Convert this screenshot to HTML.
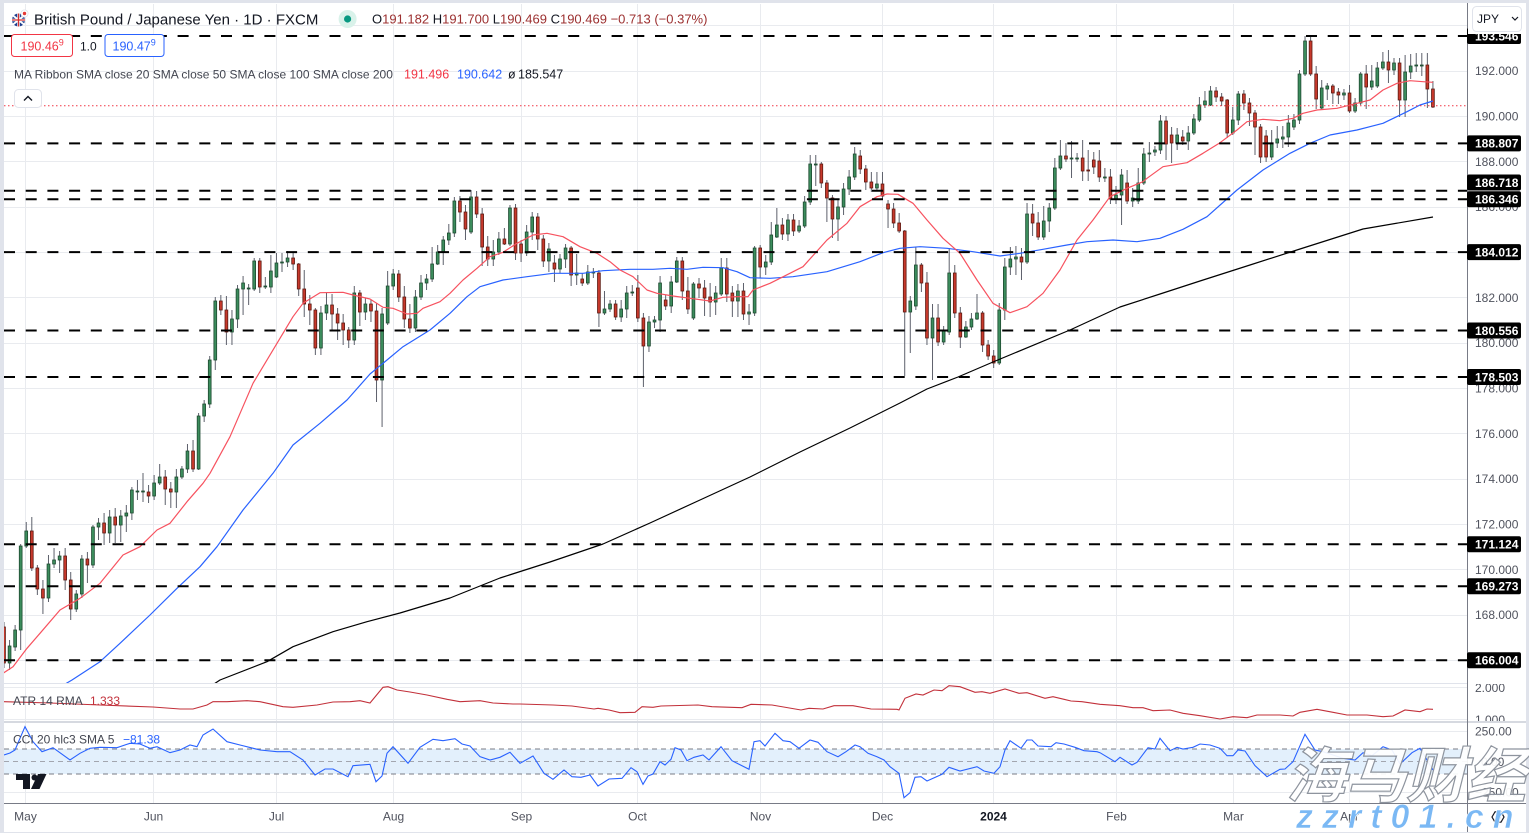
<!DOCTYPE html>
<html><head><meta charset="utf-8">
<style>
html,body{margin:0;padding:0;background:#fff;overflow:hidden;}
svg{display:block;font-family:"Liberation Sans","Noto Sans CJK SC",sans-serif;}
</style></head>
<body>
<svg id="c" width="1529" height="833" viewBox="0 0 1529 833" xmlns="http://www.w3.org/2000/svg">
<defs>
<clipPath id="main"><rect x="4" y="4" width="1463" height="679"/></clipPath>
<clipPath id="atr"><rect x="4" y="684" width="1463" height="37"/></clipPath>
<clipPath id="atrax"><rect x="1468" y="684" width="58" height="37"/></clipPath>
<clipPath id="cci"><rect x="4" y="723" width="1463" height="80"/></clipPath>
</defs>
<rect width="1529" height="833" fill="#fff"/>

<!-- horizontal grid main -->
<g stroke="#e9ebef" stroke-width="1">
<line x1="4" x2="1467" y1="25.5" y2="25.5"/>
<line x1="4" x2="1467" y1="71.5" y2="71.5"/>
<line x1="4" x2="1467" y1="116.5" y2="116.5"/>
<line x1="4" x2="1467" y1="161.5" y2="161.5"/>
<line x1="4" x2="1467" y1="207.5" y2="207.5"/>
<line x1="4" x2="1467" y1="252.5" y2="252.5"/>
<line x1="4" x2="1467" y1="297.5" y2="297.5"/>
<line x1="4" x2="1467" y1="343.5" y2="343.5"/>
<line x1="4" x2="1467" y1="388.5" y2="388.5"/>
<line x1="4" x2="1467" y1="433.5" y2="433.5"/>
<line x1="4" x2="1467" y1="479.5" y2="479.5"/>
<line x1="4" x2="1467" y1="524.5" y2="524.5"/>
<line x1="4" x2="1467" y1="569.5" y2="569.5"/>
<line x1="4" x2="1467" y1="615.5" y2="615.5"/>
<line x1="4" x2="1467" y1="660.5" y2="660.5"/>
<line x1="4" x2="1467" y1="687.5" y2="687.5"/>
<line x1="4" x2="1467" y1="719.5" y2="719.5"/>
<line x1="4" x2="1467" y1="731.5" y2="731.5"/>
<line x1="4" x2="1467" y1="792.5" y2="792.5"/>
</g>
<!-- vertical grid -->
<g stroke="#e9ebef" stroke-width="1">
<line x1="25.5" x2="25.5" y1="4" y2="803"/>
<line x1="153.5" x2="153.5" y1="4" y2="803"/>
<line x1="276.5" x2="276.5" y1="4" y2="803"/>
<line x1="393.5" x2="393.5" y1="4" y2="803"/>
<line x1="521.5" x2="521.5" y1="4" y2="803"/>
<line x1="637.5" x2="637.5" y1="4" y2="803"/>
<line x1="760.5" x2="760.5" y1="4" y2="803"/>
<line x1="882.5" x2="882.5" y1="4" y2="803"/>
<line x1="993.5" x2="993.5" y1="4" y2="803"/>
<line x1="1116.5" x2="1116.5" y1="4" y2="803"/>
<line x1="1233.5" x2="1233.5" y1="4" y2="803"/>
<line x1="1349.5" x2="1349.5" y1="4" y2="803"/>
</g>

<!-- candles -->
<g id="candles" clip-path="url(#main)"></g>

<!-- MAs -->
<g clip-path="url(#main)" fill="none" stroke-width="1.2" stroke-linejoin="round">
<polyline stroke="#000" points="205,690 220,680 267,661.7 293,646.7 333,631.7 367,621.7 400,613 450,598 500,578 550,562 603,544 650,523 700,500 750,477 800,452 850,428 900,403 927,389 958,377 993,362 1070,330 1120,307 1160,294 1200,281 1250,265 1300,249 1363,229 1433,217"/>
<polyline stroke="#2962ff" points="55,690 72,680 100,661.7 120,643.3 150,615 177,588.3 200,566.7 217,546.7 243,510 273,473.3 293,445 320,423.3 347,400 370,374 387,360 403,346.7 430,330 450,313.3 467,296.7 480,286.7 503,280 527,276.7 553,273.3 583,273.3 603,270.7 630,269.3 653,269.3 670,268.3 687,269.3 703,267.3 723,267.7 737,271.7 750,277.7 770,278.3 793,276.7 827,271.7 860,261.7 883,252.7 900,248.3 920,246.7 947,248.3 973,251.7 1000,256 1020,253.3 1043,249.3 1067,245 1087,241.7 1113,240 1137,241.7 1160,238.3 1183,229.3 1207,216.7 1237,190 1263,170 1290,153.3 1310,143.3 1330,135 1357,130 1383,123.3 1407,111.7 1420,105 1433,101"/>
<polyline stroke="#f7525f" points="3,673.3 13,666.7 27,648.3 40,633.3 60,610 80,598.3 100,583.3 123,555 140,546.7 157,530 170,523.3 187,501.7 203,483.3 210,473.3 230,436.7 253,383.3 277,343.3 293,316.7 303,303.3 320,292.7 343,292.3 353,295 370,299 383,307.3 393,308.3 407,314 417,313.3 423,308.3 440,301.7 450,293.3 463,280 477,268.3 490,256.7 503,252.3 517,243.3 533,235 547,233.3 563,236.7 580,246.7 597,253.3 610,261.7 620,270 633,276.7 647,290 657,293.3 673,296 690,298.3 710,301 723,297.3 737,296.7 748,296.7 753,290 770,283.3 780,278.3 803,266.7 827,240 847,223.3 860,206.7 877,196.7 887,194 898,194.3 913,203.3 927,220 943,238.3 960,253.3 977,280 993,303.3 1010,312.7 1027,306.7 1043,293.3 1060,270 1077,240 1093,220 1110,196.7 1127,188.3 1143,181.7 1147,178.3 1163,166.7 1187,162.7 1203,153.3 1220,142.7 1237,130 1247,121.7 1263,119.3 1280,120.7 1293,118.3 1303,113.3 1317,110 1337,108.3 1357,103.3 1370,100 1383,90 1397,83.3 1410,80.7 1423,81.7 1433,82.3"/>
</g>

<!-- horizontal dashed levels -->
<g stroke="#000" stroke-width="2" stroke-dasharray="11 10.7" clip-path="url(#main)">
<line x1="4" x2="1467" y1="36" y2="36"/>
<line x1="4" x2="1467" y1="143.4" y2="143.4"/>
<line x1="4" x2="1467" y1="190.7" y2="190.7"/>
<line x1="4" x2="1467" y1="199.2" y2="199.2"/>
<line x1="4" x2="1467" y1="252.1" y2="252.1"/>
<line x1="4" x2="1467" y1="330.5" y2="330.5"/>
<line x1="4" x2="1467" y1="377" y2="377"/>
<line x1="4" x2="1467" y1="544.3" y2="544.3"/>
<line x1="4" x2="1467" y1="586.2" y2="586.2"/>
<line x1="4" x2="1467" y1="660.3" y2="660.3"/>
</g>
<!-- current price dotted line -->
<line x1="4" x2="1467" y1="105.7" y2="105.7" stroke="#f23645" stroke-width="1" stroke-dasharray="1.5 2.5"/>

<!-- pane separators -->
<line x1="4" x2="1467" y1="683.5" y2="683.5" stroke="#e0e3eb"/>
<rect x="4" y="721" width="1522" height="2" fill="#d6d9e0"/>

<!-- ATR -->
<g clip-path="url(#atr)">
<polyline fill="none" stroke="#c2303a" stroke-width="1.1" points="4,701.7 50,703 100,705 153,707 180,709 193,709 207,705 213,701.7 227,701.7 247,700.7 260,701.7 283,706.7 293,707.3 317,705 333,702 350,701.7 360,700.7 370,703 383,687.3 388,686.7 397,690 410,692 427,695 447,699.3 460,701.7 480,700.7 493,703 513,704 520,704 553,705 572,706 594,709 598,708.3 609,710 620,712.7 635,712.3 642,706.7 653,707.3 661,706 698,705 712,706.7 742,707.7 751,704.3 772,705 801,710 809,708.3 823,709 834,705.7 853,705.7 871,709 897,709.3 899,710 905,698.3 916,694 923,695 934,690 942,690.7 949,685.7 960,686.7 975,692.3 982,691.7 990,693.3 1005,689 1019,693.3 1027,692.7 1045,698.3 1053,696.7 1064,699.3 1071,701 1082,701.7 1100,704.3 1120,705.7 1133,707.7 1143,707.7 1153,710.7 1170,710 1183,713.3 1200,715.7 1220,719 1233,716.7 1247,717.7 1257,715 1280,715 1293,716 1300,712.3 1317,709.3 1333,712.3 1347,715 1367,715 1383,716.7 1393,716 1405,710 1420,711.7 1427,709 1433,709.3"/>
</g>
<text x="13" y="705" font-size="12" fill="#434651">ATR 14 RMA <tspan x="90" fill="#c2303a">1.333</tspan></text>

<!-- CCI -->
<g clip-path="url(#cci)">
<rect x="4" y="749" width="1463" height="25" fill="#e3f0fc"/>
<g stroke="#787b86" stroke-width="1" stroke-dasharray="5 4">
<line x1="4" x2="1467" y1="749" y2="749"/>
<line x1="4" x2="1467" y1="774" y2="774"/>
</g>
<line x1="4" x2="1467" y1="761.5" y2="761.5" stroke="#a3a6af" stroke-width="1" stroke-dasharray="5 4"/>
<polyline fill="none" stroke="#2962ff" stroke-width="1.1" points="4,755 10,753 15,750 25,726.7 33,741.7 42,751.7 53,747.7 70,760 80,753.3 90,748.3 100,747.3 117,747.7 130,743.3 140,744 150,748.3 157,746.7 170,752.7 180,750 190,745 197,746.7 203,735 213,729 227,741.7 240,745 260,750 277,751.7 290,751.7 303,760 315,775 325,769 333,769 348,776.7 353,765.7 370,764.3 376,781.7 382,776 387,753.3 393,746.7 408,763.3 420,747.3 433,739.3 443,740.7 455,738.7 462,744 470,746 480,756.7 490,760 500,757.3 510,752.3 520,763.3 533,756 544,773.3 553,779.3 564,770 572,776.7 581,777.3 590,775 598,786 609,779 622,778.3 631,767.7 637,771.7 643,784.3 648,776 653,774 660,761.7 665,765 671,759.3 675,747.7 681,750 687,760.7 694,757.3 703,755 709,760 721,746.7 732,760.7 749,769.3 754,741.7 760,740.7 765,746 775,733.3 783,740.7 790,741.7 799,748.3 810,740 818,742.3 827,751.7 838,756.7 846,751.7 855,745 860,746.7 868,753.3 877,756.7 884,760 890,766.7 899,773.3 904,797.7 910,792.7 915,777.3 921,776.7 927,781 942,774.3 949,767.3 960,771 977,766.7 984,771 994,773.3 1000,766.7 1005,750 1010,740.7 1021,748.3 1027,740 1032,740 1038,746 1051,746.7 1056,742.7 1064,744 1075,747.3 1084,750.7 1097,751.7 1100,752.7 1115,761.7 1120,757.3 1132,765 1137,762.3 1148,747.7 1155,749 1160,738.3 1170,750.7 1177,747.3 1183,749 1193,747.3 1200,744 1210,745 1220,748.3 1227,755.7 1233,755.7 1238,750 1245,751 1255,765.7 1267,776.7 1280,769.3 1285,769 1293,761.7 1305,734.3 1315,750 1323,751.7 1333,755 1343,758.3 1355,760 1363,752.7 1372,755.7 1383,746.7 1392,750 1400,764 1412,752.7 1420,748.3 1425,756.7 1433,770"/>
</g>
<text x="13" y="743.5" font-size="12" fill="#434651">CCI 20 hlc3 SMA 5 <tspan x="123" fill="#2962ff">−81.38</tspan></text>

<!-- TV logo -->
<g fill="#131722">
<rect x="16" y="774" width="14" height="6"/>
<rect x="23" y="774" width="7" height="15"/>
<circle cx="34.5" cy="777.5" r="3"/>
<polygon points="38,774 46.5,774 39.5,789 31,789"/>
</g>

<!-- axes borders -->
<line x1="1467.5" x2="1467.5" y1="0" y2="833" stroke="#787b86"/>
<line x1="4" x2="1526" y1="803.5" y2="803.5" stroke="#787b86"/>

<!-- price axis labels -->
<g font-size="12" fill="#50535e">
<text x="1475" y="75.2">192.000</text>
<text x="1475" y="120.5">190.000</text>
<text x="1475" y="165.9">188.000</text>
<text x="1475" y="211.2">186.000</text>
<text x="1475" y="256.5">184.000</text>
<text x="1475" y="301.9">182.000</text>
<text x="1475" y="347.2">180.000</text>
<text x="1475" y="392.5">178.000</text>
<text x="1475" y="437.9">176.000</text>
<text x="1475" y="483.2">174.000</text>
<text x="1475" y="528.5">172.000</text>
<text x="1475" y="573.9">170.000</text>
<text x="1475" y="619.2">168.000</text>
<text x="1475" y="664.5">166.000</text>
</g>
<g font-size="12" fill="#50535e" clip-path="url(#atrax)">
<text x="1475" y="692">2.000</text>
<text x="1475" y="724">1.000</text>
</g>
<g font-size="12" fill="#50535e">
<text x="1475" y="735.5">250.00</text>
<text x="1481" y="766">0.00</text>
<text x="1475" y="796.5">−250.00</text>
</g>

<!-- level label boxes -->
<g>
<rect x="1467" y="28" width="54" height="16" rx="2" fill="#000"/>
<rect x="1467" y="135.4" width="54" height="16" rx="2" fill="#000"/>
<rect x="1467" y="174.5" width="54" height="16" rx="2" fill="#000"/>
<rect x="1467" y="191.2" width="54" height="16" rx="2" fill="#000"/>
<rect x="1467" y="244.1" width="54" height="16" rx="2" fill="#000"/>
<rect x="1467" y="322.5" width="54" height="16" rx="2" fill="#000"/>
<rect x="1467" y="369" width="54" height="16" rx="2" fill="#000"/>
<rect x="1467" y="536.3" width="54" height="16" rx="2" fill="#000"/>
<rect x="1467" y="578.2" width="54" height="16" rx="2" fill="#000"/>
<rect x="1467" y="652.3" width="54" height="16" rx="2" fill="#000"/>
</g>
<g font-size="12" font-weight="bold" fill="#fff">
<text x="1475" y="40.3">193.546</text>
<text x="1475" y="147.7">188.807</text>
<text x="1475" y="186.8">186.718</text>
<text x="1475" y="203.5">186.346</text>
<text x="1475" y="256.4">184.012</text>
<text x="1475" y="334.8">180.556</text>
<text x="1475" y="381.3">178.503</text>
<text x="1475" y="548.6">171.124</text>
<text x="1475" y="590.5">169.273</text>
<text x="1475" y="664.6">166.004</text>
</g>

<!-- top right overlay & JPY button -->
<rect x="1468" y="0" width="61" height="34" fill="#fff"/>
<rect x="1472.5" y="6.5" width="49" height="25" rx="4" fill="#fff" stroke="#e0e3eb"/>
<text x="1477" y="23" font-size="12" fill="#131722">JPY</text>
<path d="M1512 17 L1515 20 L1518 17" fill="none" stroke="#131722" stroke-width="1.2"/>

<!-- time axis -->
<g font-size="12" fill="#50535e" text-anchor="middle">
<text x="25.5" y="820.5">May</text>
<text x="153.5" y="820.5">Jun</text>
<text x="276.5" y="820.5">Jul</text>
<text x="393.5" y="820.5">Aug</text>
<text x="521.5" y="820.5">Sep</text>
<text x="637.5" y="820.5">Oct</text>
<text x="760.5" y="820.5">Nov</text>
<text x="882.5" y="820.5">Dec</text>
<text x="993.5" y="820.5" font-weight="bold" fill="#131722">2024</text>
<text x="1116.5" y="820.5">Feb</text>
<text x="1233.5" y="820.5">Mar</text>
<text x="1349.5" y="820.5">Apr</text>
</g>
<!-- settings icon -->
<polygon points="1492,817 1495,811.8 1501,811.8 1504,817 1501,822.2 1495,822.2" fill="none" stroke="#131722" stroke-width="1.2"/>
<circle cx="1498" cy="817" r="2" fill="none" stroke="#131722" stroke-width="1.2"/>

<!-- header -->
<g>
<circle cx="18.5" cy="20" r="6.5" fill="#1f3f8f"/>
<path d="M13 15.5 L24 24.5 M24 15.5 L13 24.5" stroke="#fff" stroke-width="1.8"/>
<path d="M18.5 13.5 V26.5 M12 20 H25" stroke="#fff" stroke-width="2.6"/>
<path d="M18.5 13.5 V26.5 M12 20 H25" stroke="#d32f2f" stroke-width="1.3"/>
<circle cx="24.5" cy="13.5" r="3.6" fill="#fff" stroke="#e0e3eb" stroke-width="0.8"/>
<circle cx="24.5" cy="13.5" r="1.7" fill="#e53935"/>
</g>
<text x="34" y="24.5" font-size="15" fill="#131722">British Pound / Japanese Yen · 1D · FXCM</text>
<circle cx="347.6" cy="19" r="9" fill="#d9f2ea"/>
<circle cx="347.6" cy="19" r="3.6" fill="#089981"/>
<text x="372" y="23.5" font-size="13" fill="#131722">O<tspan fill="#9c3030">191.182</tspan> H<tspan fill="#9c3030">191.700</tspan> L<tspan fill="#9c3030">190.469</tspan> C<tspan fill="#9c3030">190.469</tspan> <tspan fill="#9c3030">−0.713 (−0.37%)</tspan></text>

<rect x="11.5" y="34.5" width="61" height="22" rx="3" fill="#fff" stroke="#f23645"/>
<text x="20.5" y="50.5" font-size="12.5" fill="#f23645">190.46<tspan font-size="9" dy="-5">9</tspan></text>
<text x="80" y="50.5" font-size="12" fill="#131722">1.0</text>
<rect x="105" y="34.5" width="59" height="22" rx="3" fill="#fff" stroke="#2962ff"/>
<text x="112.5" y="50.5" font-size="12.5" fill="#2962ff">190.47<tspan font-size="9" dy="-5">9</tspan></text>

<text x="14" y="78.5" font-size="12" fill="#434651">MA Ribbon SMA close 20 SMA close 50 SMA close 100 SMA close 200</text>
<text x="404" y="78.5" font-size="12.5" fill="#f23645">191.496</text>
<text x="457" y="78.5" font-size="12.5" fill="#2962ff">190.642</text>
<text x="508" y="78.5" font-size="12.5" fill="#131722">ø</text>
<text x="518" y="78.5" font-size="12.5" fill="#131722">185.547</text>

<rect x="14.5" y="89.5" width="27" height="18" rx="4" fill="#fff" stroke="#e0e3eb"/>
<path d="M24 100.5 L28 96.5 L32 100.5" fill="none" stroke="#131722" stroke-width="1.4"/>

<!-- frame -->
<rect x="0" y="0" width="4" height="833" fill="#e0e3eb"/>
<rect x="0" y="0" width="1529" height="3" fill="#e0e3eb"/>
<rect x="1526" y="0" width="3" height="833" fill="#e0e3eb"/>
<rect x="0" y="832" width="1529" height="1" fill="#e0e3eb"/>

<!-- watermark -->
<text x="1286" y="797" font-size="60" font-weight="bold" font-style="italic" fill="#ffffff" fill-opacity="0.92" stroke="#8e949e" stroke-width="1.2" font-family="'Noto Sans CJK SC','WenQuanYi Zen Hei',sans-serif">海马财经</text>
<text x="1296" y="828" font-size="34" font-weight="bold" font-style="italic" letter-spacing="9" fill="#7ab8f4" stroke="#ffffff" stroke-width="0.6" font-family="'Liberation Sans',sans-serif">zzrt01.cn</text>
</svg>

<script>
(function(){
var C=[
[627,663,622,668],[663,646,640,670],[647,630,625,651],[630,546,544,650],[546,531,522,548],
[531,568,517,571],[568,589,565,595],[589,598,580,614],[598,564,555,602],[564,560,548,568],
[560,556,551,573],[556,580,548,590],[580,609,572,620],[609,594,590,612],[594,559,555,598],
[559,565,552,583],[565,527,525,568],[527,523,518,540],[523,533,513,545],[533,517,510,543],
[517,525,508,543],[525,516,510,542],[516,513,505,532],[513,490,487,520],[491,491,480,500],
[491,491,473,502],[492,496,485,503],[496,483,475,500],[483,477,464,485],[477,489,470,505],
[489,492,482,508],[492,477,469,508],[477,469,466,479],[469,451,444,473],[451,469,440,472],
[469,416,413,470],[416,404,400,422],[404,360,356,408],[360,301,297,370],[301,310,295,315],
[310,332,296,345],[332,319,310,345],[319,289,285,328],[289,283,276,315],[289,288,284,305],
[289,261,258,291],[261,287,258,293],[286,286,277,289],[287,271,255,293],[277,263,253,278],
[262,262,253,272],[262,258,251,267],[258,264,252,270],[264,289,263,296],[289,304,270,317],
[304,310,295,325],[310,348,308,355],[348,313,306,355],[313,305,293,320],[305,314,294,330],
[314,323,308,340],[323,330,314,345],[330,340,327,348],[340,293,286,345],[293,312,290,326],
[312,304,298,320],[304,311,300,322],[311,380,303,402],[380,314,308,427],[323,286,271,325],
[286,274,269,290],[274,297,270,302],[297,319,286,328],[319,328,304,333],[328,297,290,332],
[297,283,275,300],[283,279,274,290],[279,264,247,282],[264,252,245,265],[252,240,236,265],
[240,233,224,245],[233,201,197,237],[201,212,196,222],[212,229,205,240],[232,197,190,234],
[197,214,191,218],[214,247,208,266],[247,259,236,266],[259,252,240,266],[252,239,232,255],
[239,244,228,245],[244,208,205,246],[208,253,204,260],[244,253,240,262],[253,232,225,256],
[232,217,212,240],[217,239,213,250],[239,261,235,267],[261,249,243,272],[263,269,255,282],
[269,259,254,273],[259,248,244,268],[248,275,246,286],[275,273,254,285],[279,283,273,286],
[283,272,265,285],[272,272,268,278],[273,313,270,327],[313,309,291,315],[309,304,300,312],
[304,317,300,320],[317,309,300,322],[309,293,286,318],[293,292,285,296],[288,318,275,322],
[318,346,313,387],[346,322,316,352],[322,320,316,328],[320,283,276,332],[300,306,295,310],
[306,282,276,313],[282,261,257,283],[261,291,257,300],[291,309,277,314],[318,284,282,320],
[284,288,278,298],[288,298,280,316],[297,302,283,317],[302,293,286,315],[294,268,258,296],
[268,294,258,302],[293,301,286,317],[301,291,284,317],[291,314,283,320],[314,312,304,325],
[313,248,246,316],[248,267,245,278],[267,262,255,275],[262,235,222,265],[237,225,208,238],
[225,234,218,240],[234,220,214,241],[220,231,214,236],[231,226,220,233],[226,202,196,228],
[202,164,155,205],[164,164,155,186],[164,183,162,188],[183,198,180,222],[198,219,195,238],
[219,207,200,241],[207,189,183,215],[189,177,170,195],[177,154,147,180],[156,169,150,174],
[169,182,165,190],[182,188,172,192],[188,184,172,190],[184,196,172,199],[204,209,200,228],
[209,223,203,228],[223,231,213,233],[231,312,230,376],[312,301,296,353],[306,265,247,310],
[265,283,263,292],[283,338,272,345],[338,318,304,380],[318,342,304,346],[342,331,326,345],
[332,273,248,335],[273,313,265,318],[313,337,307,348],[337,327,321,338],[327,319,313,330],
[319,313,294,320],[313,345,311,352],[345,356,340,360],[356,363,350,368],[363,310,303,365],
[310,267,258,320],[267,259,247,275],[259,257,246,275],[257,262,248,280],[262,214,203,264],
[214,223,204,236],[223,237,212,240],[237,221,206,240],[221,208,203,232],[208,168,158,210],
[168,156,140,170],[156,159,143,162],[158,158,141,178],[158,158,153,162],[158,171,140,181],
[170,171,150,181],[160,167,152,174],[161,177,150,182],[177,177,168,182],[177,199,169,204],
[199,195,186,204],[195,175,169,225],[183,201,170,204],[201,198,188,207],[201,183,168,204],
[183,154,148,185],[154,153,142,162],[152,150,146,156],[150,121,115,154],[121,144,116,160],
[135,143,127,163],[143,135,128,150],[137,141,130,145],[141,133,126,150],[133,119,114,135],
[120,105,97,122],[105,101,91,108],[105,91,86,106],[91,97,87,102],[97,101,93,106],
[100,133,99,138],[133,120,107,135],[120,94,91,125],[94,103,90,110],[103,113,98,126],
[113,127,110,155],[127,157,124,163],[136,157,130,162],[157,143,130,160],[143,139,126,148],
[139,137,126,148],[137,123,115,147],[127,120,114,130],[120,74,70,124],[74,41,36,76],
[41,74,36,76],[74,99,66,109],[108,88,80,109],[89,86,83,100],[86,93,84,104],
[92,95,88,104],[95,93,89,100],[93,111,85,113],[111,103,98,113],[103,74,72,105],
[74,87,65,109],[87,81,65,90],[86,68,62,88],[68,62,52,70],[62,70,50,83],
[70,63,58,75],[63,100,58,117],[100,72,55,117],[72,66,54,79],[65,65,53,72],
[65,65,53,76],[65,89,53,108],[89,107,81,108]
];
var NS="http://www.w3.org/2000/svg";
var g=document.getElementById("candles");
var x0=4,dx=5.56;
function el(n,a){var e=document.createElementNS(NS,n);for(var k in a)e.setAttribute(k,a[k]);g.appendChild(e);return e;}
for(var i=0;i<C.length;i++){
  var c=C[i],o=c[0],cl=c[1];
  var top=Math.min(o,cl),bot=Math.max(o,cl);
  var h=(c[2]!==undefined)?c[2]:top-(2+(i*7)%9);
  var l=(c[3]!==undefined)?c[3]:bot+(2+(i*5)%8);
  var x=x0+i*dx;
  var up=cl<=o;
  el("line",{x1:x,x2:x,y1:h,y2:l,stroke:"#5d606b","stroke-width":"1"});
  var bh=Math.max(bot-top,1);
  el("rect",{x:(x-1.4).toFixed(2),y:top,width:"2.8",height:bh,fill:up?"#3c8d5d":"#c7392c",stroke:up?"#1d4a30":"#5c1a12","stroke-width":"0.8"});
}
})();
</script>
</body></html>
